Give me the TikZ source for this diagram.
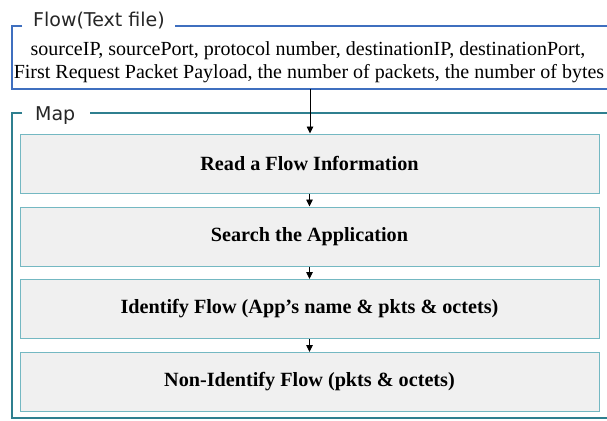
\documentclass[tikz,border=0pt]{standalone}
\usepackage{fontspec}
\setmainfont{Liberation Serif}
\newfontfamily\labelfont{DejaVu Sans}
\usetikzlibrary{arrows.meta}
\definecolor{flowblue}{HTML}{3F6FBF}
\definecolor{mapteal}{HTML}{2F7F8F}
\definecolor{boxteal}{HTML}{74B8C2}
\definecolor{boxfill}{HTML}{F0F0F0}
\tikzset{
  stepbox/.style={draw=boxteal, fill=boxfill, line width=1pt, minimum width=579pt,
    minimum height=59pt, inner sep=0pt, font=\fontsize{20.2}{23}\selectfont\bfseries},
  flowarrow/.style={-{Triangle[length=7pt,width=6.5pt]}, line width=0.9pt, black},
  framelabel/.style={anchor=base west, inner sep=0pt, font=\labelfont\fontsize{19}{22}\selectfont, text=black!85},
  flowtext/.style={anchor=base, inner sep=0pt, font=\fontsize{20}{22}\selectfont}
}
\begin{document}
\begin{tikzpicture}[x=1pt,y=-1pt]
\useasboundingbox (0,0) rectangle (607,420);
\fill[white] (0,0) rectangle (607,420);
% Flow frame
\draw[flowblue, line width=1.3pt] (22,26) -- (12,26) -- (12,89) -- (608,89);
\draw[flowblue, line width=1.3pt] (175,26) -- (608,26);
\node[framelabel] (flowlabel) at (33,27) {Flow(Text file)};
\node[flowtext] (line1) at (308,56) {sourceIP, sourcePort, protocol number, destinationIP, destinationPort,};
\node[flowtext] (line2) at (309,78) {First Request Packet Payload, the number of packets, the number of bytes};
\coordinate (flowbot) at (310,89);
% Map frame
\draw[mapteal, line width=2pt] (22,113) -- (12,113) -- (12,418) -- (608,418);
\draw[mapteal, line width=2pt] (90,113) -- (608,113);
\node[framelabel] (maplabel) at (35,120) {Map};
% Steps
\node[stepbox] (r1) at (309.5,163.5) {Read a Flow Information};
\node[stepbox] (r2) at (309.5,236.5) {Search the Application};
\node[stepbox] (r3) at (309.5,309) {Identify Flow (App's name \& pkts \& octets)};
\node[stepbox] (r4) at (309.5,382) {Non-Identify Flow (pkts \& octets)};
% Arrows
\draw[flowarrow] (flowbot) -- (flowbot |- r1.north);
\draw[flowarrow] (r1.south) -- (r2.north);
\draw[flowarrow] (r2.south) -- (r3.north);
\draw[flowarrow] (r3.south) -- (r4.north);
\end{tikzpicture}
\end{document}
